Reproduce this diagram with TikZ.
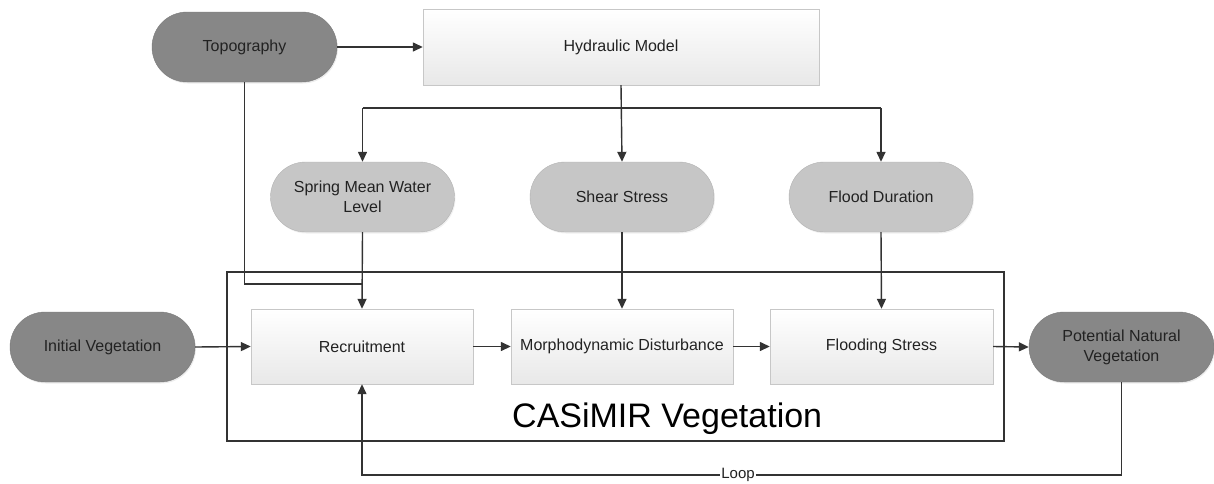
\documentclass[tikz,border=0pt]{standalone}
\usepackage{fontspec}
\setmainfont{Liberation Sans}
\usetikzlibrary{arrows.meta,shadows}
\definecolor{lnc}{HTML}{333333}
\definecolor{txc}{HTML}{222222}
\definecolor{dkfill}{HTML}{878787}
\definecolor{dkdraw}{HTML}{7A7A7A}
\definecolor{ltfill}{HTML}{C6C6C6}
\begin{document}
\begin{tikzpicture}[x=1pt,y=-1pt,
  every node/.style={font=\fontsize{16}{20}\selectfont, text=txc, align=center, inner sep=0pt},
  darkpill/.style={rectangle, rounded corners=35pt, minimum width=185pt, minimum height=70pt,
    fill=dkfill, draw=dkdraw,
    drop shadow={opacity=0.15, shadow xshift=1pt, shadow yshift=-1.5pt}},
  lightpill/.style={rectangle, rounded corners=35pt, minimum width=184pt, minimum height=70pt,
    fill=ltfill, draw=black!30,
    drop shadow={opacity=0.12, shadow xshift=1pt, shadow yshift=-1.5pt}},
  procbox/.style={rectangle, minimum width=222pt, minimum height=75pt,
    top color=white, bottom color=black!9, draw=black!22},
  conn/.style={draw=lnc, line width=1.4pt},
  arr/.style={conn, -{Triangle[length=10pt,width=9pt]}}
]
\useasboundingbox (0,0) rectangle (1214,483);
% outer CASiMIR frame
\draw[draw=lnc, line width=1.8pt] (227,272) rectangle (1004,441);
\node[anchor=base west, font=\fontsize{34}{40}\selectfont, text=black] (cas) at (512,427) {CASiMIR Vegetation};

% nodes
\node[darkpill] (topo) at (244.5,47) {Topography};
\node[procbox, minimum width=396pt, minimum height=76pt] (hyd) at (621,47) {Hydraulic Model};
\node[lightpill] (spring) at (362.5,197) {Spring Mean Water\\Level};
\node[lightpill] (shear) at (622,197) {Shear Stress};
\node[lightpill] (flood) at (881,197) {Flood Duration};
\node[darkpill] (init) at (102.5,347) {Initial Vegetation};
\node[procbox] (recr) at (362,346.5) {Recruitment};
\node[procbox] (morph) at (622,346.5) {Morphodynamic Disturbance};
\node[procbox, minimum width=223pt] (flst) at (881.5,346.5) {Flooding Stress};
\node[darkpill] (pnv) at (1121.5,347) {Potential Natural\\Vegetation};

% connectors
\coordinate (bj) at (621,108);
\coordinate (tj) at (0,284);
\coordinate (lp) at (0,475);
\draw[arr] (topo.east) -- (hyd.west);
\draw[arr] (hyd.south) -- (shear.north);
\draw[conn] (spring.north |- bj) -- (flood.north |- bj);
\draw[arr] (spring.north |- bj) -- (spring.north);
\draw[arr] (flood.north |- bj) -- (flood.north);
\draw[conn] (topo.south) -- (topo.south |- tj) -- (recr.north |- tj);
\draw[arr] (spring.south) -- (recr.north);
\draw[arr] (shear.south) -- (morph.north);
\draw[arr] (flood.south) -- (flst.north);
\draw[arr] (init.east) -- (recr.west);
\draw[arr] (recr.east) -- (morph.west);
\draw[arr] (morph.east) -- (flst.west);
\draw[arr] (flst.east) -- (pnv.west);
\draw[arr] (pnv.south) -- (pnv.south |- lp) -- (recr.south |- lp) -- (recr.south);
\node[fill=white, inner sep=1pt, font=\fontsize{15}{18}\selectfont] (loop) at (738,475) {Loop};
\end{tikzpicture}
\end{document}
